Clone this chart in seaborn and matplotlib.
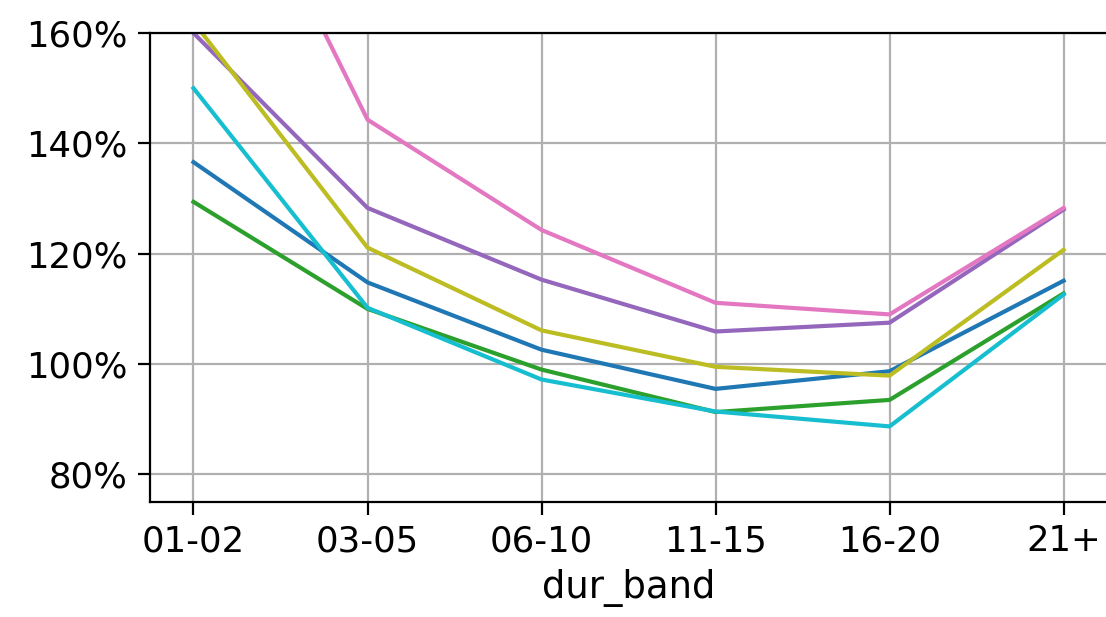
import numpy as np
import pandas as pd
import matplotlib
matplotlib.use("Agg")
import matplotlib.pyplot as plt
from matplotlib.ticker import PercentFormatter
import seaborn as sns

# %% data
dur_bands = ["01-02", "03-05", "06-10", "11-15", "16-20", "21+"]

blue = [1.366, 1.148, 1.026, 0.955, 0.987, 1.151]
green = [1.294, 1.100, 0.990, 0.913, 0.935, 1.128]
purple = [1.600, 1.283, 1.153, 1.059, 1.075, 1.280]
pink = [2.080, 1.443, 1.243, 1.111, 1.090, 1.283]
olive = [1.620, 1.211, 1.061, 0.995, 0.979, 1.207]
cyan = [1.500, 1.102, 0.972, 0.914, 0.887, 1.126]

series = {
    "tab:blue": blue,
    "tab:green": green,
    "tab:purple": purple,
    "tab:pink": pink,
    "tab:olive": olive,
    "tab:cyan": cyan,
}

# %% long-form frame for seaborn
df = pd.concat(
    [pd.DataFrame({"dur_band": dur_bands, "ratio": vals, "grp": name})
     for name, vals in series.items()],
    ignore_index=True,
)

# %% plot
fig = plt.figure(figsize=(5.53, 3.085), dpi=200)
ax = fig.add_axes([0.1356, 0.1864, 0.8654, 0.7601])

sns.lineplot(
    data=df, x="dur_band", y="ratio", hue="grp",
    palette={k: k for k in series}, legend=False, ax=ax, linewidth=1.5,
)

ax.set_xlim(-0.25, 5.25)
ax.set_ylim(0.75, 1.60)
ax.set_yticks([0.8, 1.0, 1.2, 1.4, 1.6])
ax.yaxis.set_major_formatter(PercentFormatter(1.0, decimals=0))
ax.grid(True, color="#b0b0b0", linewidth=0.8)
ax.tick_params(labelsize=12.8, length=4.5)
ax.set_xlabel("dur_band", fontsize=13.3)
ax.set_ylabel("")

fig.savefig("out.png", dpi=200)
